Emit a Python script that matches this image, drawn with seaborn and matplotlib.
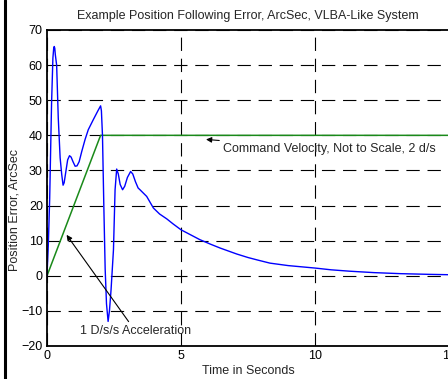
import numpy as np
import pandas as pd
import matplotlib
matplotlib.use("Agg")
import matplotlib.pyplot as plt
import seaborn as sns
from matplotlib.lines import Line2D

# Position error curve
time_s = [0, 0.05, 0.1, 0.17, 0.22, 0.25, 0.27, 0.29, 0.31, 0.36, 0.42, 0.49,
          0.55, 0.6, 0.64, 0.7, 0.77, 0.84, 0.9, 0.97, 1.05, 1.12, 1.2, 1.3,
          1.42, 1.54, 1.73, 1.9, 2.0, 2.03, 2.07, 2.12, 2.17, 2.22, 2.28, 2.33,
          2.39, 2.48, 2.54, 2.6, 2.66, 2.73, 2.82, 2.9, 3.0, 3.12, 3.2, 3.3,
          3.4, 3.47, 3.72, 3.97, 4.2, 4.47, 4.7, 5.0, 5.35, 5.7, 6.1, 6.46,
          7.08, 7.5, 7.85, 8.32, 9.0, 10.0, 10.6, 11.3, 12.2, 13.2, 14.3, 15.0]
error_arcsec = [0, 9, 22, 49, 62, 64.8, 65.3, 64.8, 63, 60, 45, 33.6,
                28.8, 25.8, 26.5, 29.5, 33, 34.2, 33.8, 32.5, 31.2, 31.3, 32.5, 35.5,
                38.8, 41.6, 44.5, 47, 48.4, 47, 40, 20, 2, -8, -13, -10,
                -4, 7.4, 24.5, 30.4, 29, 26, 24.5, 25.5, 28, 29.7, 29, 26.8,
                25, 24.5, 22.6, 19.3, 17.6, 16.2, 14.8, 13.1, 11.7, 10.3, 9, 7.9,
                6.2, 5.2, 4.5, 3.6, 2.9, 2.2, 1.7, 1.3, 0.9, 0.6, 0.4, 0.3]

# Command velocity (not to scale): ramp then flat
cmd_time = [0, 2, 15]
cmd_value = [0, 40, 40]

x_ticks = [0, 5, 10, 15]
y_ticks = [-20, -10, 0, 10, 20, 30, 40, 50, 60, 70]

sns.set_style("white")
plt.rcParams["font.family"] = ["Liberation Sans", "DejaVu Sans"]
fs = 9

fig = plt.figure(figsize=(4.48, 3.79), dpi=100)
ax = fig.add_axes([47 / 448, 33 / 379, 402 / 448, 316 / 379])

err = pd.DataFrame({"t": time_s, "v": error_arcsec})
cmd = pd.DataFrame({"t": cmd_time, "v": cmd_value})
sns.lineplot(data=cmd, x="t", y="v", color="#1a8a1a", lw=1.1, ax=ax, estimator=None)
sns.lineplot(data=err, x="t", y="v", color="#0000ff", lw=1.0, ax=ax, estimator=None, sort=False)

ax.set_xlim(0, 15)
ax.set_ylim(-20, 70)
ax.set_xticks(x_ticks)
ax.set_yticks(y_ticks)
ax.grid(True, color="black", linestyle=(0, (12, 7)), linewidth=0.8)
ax.tick_params(direction="in", length=4, width=1, colors="black", labelsize=fs, pad=3)
for s in ax.spines.values():
    s.set_color("black")
    s.set_linewidth(1.3)

ax.set_title("Example Position Following Error, ArcSec, VLBA-Like System", fontsize=fs, pad=8)
ax.set_xlabel("Time in Seconds", fontsize=fs, labelpad=2)
ax.set_ylabel("Position Error, ArcSec", fontsize=fs)
ax.yaxis.set_label_coords(-0.066, 0.43)

ax.annotate("Command Velocity, Not to Scale, 2 d/s", xy=(5.83, 38.9), xytext=(6.55, 36),
            fontsize=fs, va="center", ha="left",
            arrowprops=dict(arrowstyle="-|>", color="black", lw=0.8, shrinkA=0, mutation_scale=8))
ax.annotate("1 D/s/s Acceleration", xy=(0.67, 12.3), xytext=(1.22, -15.7),
            fontsize=fs, va="center", ha="left",
            arrowprops=dict(arrowstyle="-|>", color="black", lw=0.8, shrinkA=0, mutation_scale=8))

# thick frame line at the left edge of the picture
fig.add_artist(Line2D([4.5 / 448, 4.5 / 448], [0, 1], color="black", lw=2.2))

fig.savefig("out.png", dpi=100)
